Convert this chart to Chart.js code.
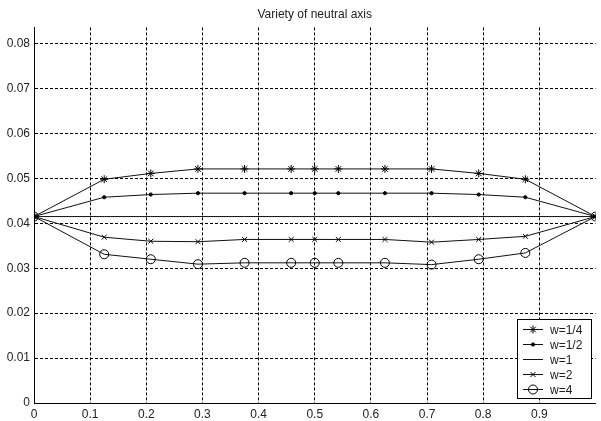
<!DOCTYPE html>
<html>
<head>
<meta charset="utf-8">
<script src="https://cdn.jsdelivr.net/npm/chart.js@4/dist/chart.umd.min.js"></script>
<style>
  body { margin: 0; background: #fff; }
</style>
</head>
<body>
<canvas id="NeutralAxis" width="601" height="421"></canvas>
<script>
// positions along the section
const xValues = [0, 0.125, 0.208, 0.292, 0.375, 0.458, 0.5, 0.542, 0.625, 0.708, 0.792, 0.875, 1];

// neutral axis position for each w
const quarterW = [0.0415, 0.0498, 0.0511, 0.0521, 0.0521, 0.0521, 0.0521, 0.0521, 0.0521, 0.0521, 0.0511, 0.0498, 0.0415];
const halfW    = [0.0415, 0.0458, 0.0464, 0.0467, 0.0467, 0.0467, 0.0467, 0.0467, 0.0467, 0.0467, 0.0464, 0.0458, 0.0415];
const oneW     = [0.0415, 0.0415, 0.0415, 0.0415, 0.0415, 0.0415, 0.0415, 0.0415, 0.0415, 0.0415, 0.0415, 0.0415, 0.0415];
const twoW     = [0.0415, 0.0369, 0.0360, 0.0359, 0.0364, 0.0364, 0.0364, 0.0364, 0.0364, 0.0358, 0.0364, 0.0371, 0.0415];
const fourW    = [0.0415, 0.0331, 0.0320, 0.0309, 0.0312, 0.0312, 0.0312, 0.0312, 0.0312, 0.0308, 0.0320, 0.0334, 0.0415];

const seriesLabels = ['w=1/4', 'w=1/2', 'w=1', 'w=2', 'w=4'];

const xTickValues = [0, 0.1, 0.2, 0.3, 0.4, 0.5, 0.6, 0.7, 0.8, 0.9];
const yTickValues = [0, 0.01, 0.02, 0.03, 0.04, 0.05, 0.06, 0.07, 0.08];

const toPoints = ys => xValues.map((x, i) => ({ x: x, y: ys[i] }));

const markerStyles = [
  { pointStyle: 'star', radius: 4, fill: 'transparent' },
  { pointStyle: 'circle', radius: 1.6, fill: '#000' },
  { pointStyle: false, radius: 0, fill: 'transparent' },
  { pointStyle: 'crossRot', radius: 3.5, fill: 'transparent' },
  { pointStyle: 'circle', radius: 4.5, fill: 'transparent' },
];

const allSeries = [quarterW, halfW, oneW, twoW, fourW];

const datasets = allSeries.map((ys, i) => ({
  label: seriesLabels[i],
  data: toPoints(ys),
  borderColor: '#111',
  borderWidth: 1,
  pointStyle: markerStyles[i].pointStyle || 'circle',
  pointRadius: markerStyles[i].radius,
  pointBorderWidth: 1,
  pointBorderColor: '#000',
  pointBackgroundColor: markerStyles[i].fill,
  tension: 0,
  fill: false,
}));

// legend drawn inside the plot, bottom right, like the MATLAB one
const legendBox = {
  id: 'legendBox',
  afterDraw(chart) {
    const ctx = chart.ctx;
    const area = chart.chartArea;
    const w = 74, h = 79, rowH = 15;
    const right = Math.round(area.right - 5), bottom = Math.round(area.bottom - 5);
    const left = right - w, top = bottom - h;
    ctx.save();
    ctx.fillStyle = '#fff';
    ctx.fillRect(left, top, w, h);
    ctx.strokeStyle = '#000';
    ctx.lineWidth = 1;
    ctx.setLineDash([]);
    ctx.strokeRect(left + 0.5, top + 0.5, w, h);
    ctx.font = '12px "Liberation Sans", Arial, sans-serif';
    ctx.textBaseline = 'middle';
    seriesLabels.forEach((label, i) => {
      const y = top + 10.5 + i * rowH;
      ctx.strokeStyle = '#111';
      ctx.beginPath();
      ctx.moveTo(left + 6, y);
      ctx.lineTo(left + 26, y);
      ctx.stroke();
      const m = markerStyles[i];
      if (m.pointStyle) {
        ctx.strokeStyle = '#000';
        ctx.fillStyle = m.fill;
        Chart.helpers.drawPoint(ctx, { pointStyle: m.pointStyle, radius: m.radius, rotation: 0, borderWidth: 1 }, left + 16, y);
      }
      ctx.fillStyle = '#222';
      ctx.fillText(label, left + 33, y + 1);
    });
    ctx.restore();
  }
};

const fmt = v => String(+(+v).toFixed(2));

new Chart(document.getElementById('NeutralAxis').getContext('2d'), {
  type: 'line',
  data: { datasets: datasets },
  options: {
    responsive: false,
    animation: false,
    layout: { padding: { left: 0, right: 0, top: 0, bottom: 0 } },
    plugins: {
      legend: { display: false },
      tooltip: { enabled: false },
      title: {
        display: true,
        fullSize: false,
        text: 'Variety of neutral axis',
        color: '#222',
        font: { family: '"Liberation Sans", Arial, sans-serif', size: 12, weight: 'normal' },
        padding: { top: 7, bottom: 6 },
      },
    },
    scales: {
      x: {
        type: 'linear',
        min: 0,
        max: 1,
        afterBuildTicks: scale => { scale.ticks = xTickValues.map(v => ({ value: v })); },
        afterFit: scale => { scale.height = 18; },
        grid: { color: '#000', drawTicks: false, lineWidth: 1 },
        border: { display: true, color: '#000', width: 1, dash: [3, 2] },
        ticks: {
          color: '#222',
          padding: 4,
          maxRotation: 0,
          font: { family: '"Liberation Sans", Arial, sans-serif', size: 12 },
          callback: fmt,
        },
      },
      y: {
        type: 'linear',
        min: 0,
        max: 0.0836,
        afterBuildTicks: scale => { scale.ticks = yTickValues.map(v => ({ value: v })); },
        afterFit: scale => { scale.width = 34; },
        grid: { color: '#000', drawTicks: false, lineWidth: 1 },
        border: { display: true, color: '#000', width: 1, dash: [3, 2] },
        ticks: {
          color: '#222',
          padding: 4,
          font: { family: '"Liberation Sans", Arial, sans-serif', size: 12 },
          callback: fmt,
        },
      },
    },
  },
  plugins: [legendBox],
});
</script>
</body>
</html>
